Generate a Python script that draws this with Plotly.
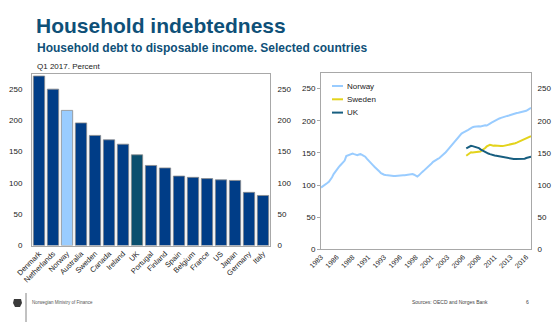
import pandas as pd
import plotly.graph_objects as go

W, H = 560, 331


def fx(x):
    return x / W


def fy(y):
    return 1 - y / H


# ---- left panel: household debt, Q1 2017 ----
countries = ["Denmark", "Netherlands", "Norway", "Australia", "Sweden", "Canada",
             "Ireland", "UK", "Portugal", "Finland", "Spain", "Belgium", "France",
             "US", "Japan", "Germany", "Italy"]
debt_ratio = [271, 250, 216, 196, 176, 169, 162, 145, 128, 124, 111, 109, 107,
              105, 104, 85, 80]

# ---- right panel: quarterly series ----
quarters = list(pd.period_range("1983Q4", "2017Q1", freq="Q").astype(str))

norway = [
    96, 97.5, 99, 101.5, 103, 105, 108, 112, 117, 121,
    124, 127, 130, 133, 135, 138, 145, 146, 146.5, 147,
    149, 148, 147, 146.5, 147.5, 148, 147, 145.5, 144, 141,
    138, 135.5, 133, 130.5, 128, 126, 123.5, 121, 118.5, 117,
    116, 115.5, 115, 114.5, 114, 114, 114, 114, 114, 114.2,
    114.5, 114.8, 115, 115.2, 115.5, 116, 116.5, 117, 117, 116,
    114.5, 113, 115, 118, 120, 122, 124, 126, 128.5, 131,
    133.5, 136, 138, 139.5, 140.5, 142, 144, 146, 148.5, 151,
    154, 157, 160, 163, 166, 169, 172, 175, 177.5, 180,
    181.5, 182.5, 184, 185.5, 187, 189, 190, 190.5, 191, 191,
    191.5, 191, 192, 193, 193, 192.5, 193.5, 195.5, 197, 198.5,
    200, 201, 202, 203.5, 204.5, 205.5, 206.5, 207, 207.5, 208,
    209, 209.5, 210, 211, 212, 212.5, 213, 214, 214.5, 215,
    215.5, 217, 219, 220,
]

sweden_start = "2006Q4"
sweden = [
    145.5, 147, 149, 151, 150.5, 151, 150.5, 151, 151.5, 152,
    154, 155.5, 157.5, 160, 161, 162.5, 162, 161, 161.5, 161,
    160.5, 160.5, 160.5, 160.5, 161, 161, 161.5, 162, 163, 163.5,
    164, 165, 166, 167, 168.5, 170, 171, 172, 173, 174,
    175, 176,
]
uk = [
    157, 158, 160, 161, 160.5, 160, 159.5, 158.5, 157.5, 155.5,
    154, 153, 151.5, 150, 149, 148, 147, 147, 146, 145.5,
    145, 144.5, 144, 143, 142.5, 142, 141.5, 141, 140.5, 140.5,
    140.5, 140.5, 140.5, 140.5, 140, 140, 140.5, 141, 142, 143,
    143.5, 144,
]

year_ticks = ["1983Q4", "1986Q2", "1988Q4", "1991Q2", "1993Q4", "1996Q2", "1998Q4",
              "2001Q2", "2003Q4", "2006Q2", "2008Q4", "2011Q2", "2013Q4", "2016Q2"]
year_labels = [q[:4] for q in year_ticks]
y_ticks = [0, 50, 100, 150, 200, 250]

series_names = ["Norway", "Sweden", "UK"]
series_colors = ["#99CCFF", "#E3D31C", "#175E80"]

BAR_DARK = "#003D87"
highlight = {"Norway": "#99CCFF", "UK": "#0A4F6E"}
bar_colors = [highlight.get(c, BAR_DARK) for c in countries]

FONT = "Liberation Sans, Arial, sans-serif"
TITLE_COL = "#0E5078"
FRAME = "#A8A8A8"
TXT = "#222222"

fig = go.Figure()

fig.add_trace(go.Bar(
    x=countries, y=debt_ratio, marker=dict(color=bar_colors, line=dict(color="#8C8C8C", width=0.8)),
    xaxis="x", yaxis="y", showlegend=False, hoverinfo="x+y",
))
# invisible copy to carry the right-hand tick labels of the left panel
fig.add_trace(go.Scatter(x=countries, y=debt_ratio, mode="none", xaxis="x", yaxis="y2",
                         showlegend=False, hoverinfo="skip"))

i0 = quarters.index(sweden_start)
sub_q = quarters[i0:i0 + len(sweden)]
for name, col, xs, ys in [("Norway", series_colors[0], quarters, norway),
                          ("Sweden", series_colors[1], sub_q, sweden),
                          ("UK", series_colors[2], sub_q, uk)]:
    fig.add_trace(go.Scatter(x=xs, y=ys, mode="lines", name=name,
                             line=dict(color=col, width=2), xaxis="x2", yaxis="y3",
                             showlegend=False))
fig.add_trace(go.Scatter(x=quarters, y=norway, mode="none", xaxis="x2", yaxis="y4",
                         showlegend=False, hoverinfo="skip"))

L_DOM_X = [fx(32), fx(270)]
L_DOM_Y = [fy(245.5), fy(73.5)]
R_DOM_X = [fx(321), fx(531)]
R_DOM_Y = [fy(249.3), fy(72.5)]

tick_font = dict(family=FONT, size=8, color=TXT)
yrange = [0, 275]

fig.update_layout(
    width=W, height=H, margin=dict(l=0, r=0, t=0, b=0),
    paper_bgcolor="white", plot_bgcolor="white",
    font=dict(family=FONT, color=TXT),
    bargap=0.19,
    xaxis=dict(domain=L_DOM_X, anchor="y", type="category", tickangle=-45,
               tickfont=dict(family=FONT, size=7.5, color=TXT), showline=True,
               mirror=True, linecolor=FRAME, linewidth=1, ticks="", showgrid=False,
               range=[-0.5, len(countries) - 0.5], automargin=False),
    yaxis=dict(domain=L_DOM_Y, anchor="x", range=yrange, tickvals=y_ticks,
               tickfont=tick_font, showline=True, mirror=True, linecolor=FRAME,
               linewidth=1, showgrid=False, zeroline=False, ticks="outside",
               ticklen=7, tickcolor="rgba(0,0,0,0)", automargin=False),
    yaxis2=dict(domain=L_DOM_Y, anchor="x", overlaying="y", side="right",
                range=yrange, tickvals=y_ticks, tickfont=tick_font, showgrid=False,
                zeroline=False, showline=False, ticks="outside", ticklen=5,
                tickcolor="rgba(0,0,0,0)", automargin=False),
    xaxis2=dict(domain=R_DOM_X, anchor="y3", type="category",
                categoryorder="array", categoryarray=quarters,
                range=[0, len(quarters) - 1], tickvals=year_ticks, ticktext=year_labels,
                tickangle=-45, tickfont=dict(family=FONT, size=7, color=TXT),
                showline=True, mirror=True, linecolor=FRAME, linewidth=1,
                showgrid=False, ticks="", automargin=False),
    yaxis3=dict(domain=R_DOM_Y, anchor="x2", range=yrange, tickvals=y_ticks,
                tickfont=tick_font, showline=True, mirror=True, linecolor=FRAME,
                linewidth=1, showgrid=False, zeroline=False, ticks="outside",
                ticklen=3, tickcolor=FRAME, automargin=False),
    yaxis4=dict(domain=R_DOM_Y, anchor="x2", overlaying="y3", side="right",
                range=yrange, tickvals=y_ticks, tickfont=tick_font, showgrid=False,
                zeroline=False, showline=False, ticks="outside", ticklen=4,
                tickcolor="rgba(0,0,0,0)", automargin=False),
)

annotations = [
    dict(text="<b>Household indebtedness</b>", x=fx(34), y=fy(39), xanchor="left",
         yanchor="bottom", font=dict(family=FONT, size=21, color=TITLE_COL)),
    dict(text="<b>Household debt to disposable income. Selected countries</b>",
         x=fx(34.5), y=fy(57), xanchor="left", yanchor="bottom",
         font=dict(family=FONT, size=12, color=TITLE_COL)),
    dict(text="Q1 2017. Percent", x=fx(35), y=fy(66), xanchor="left", yanchor="middle",
         font=dict(family=FONT, size=8, color=TXT)),
    dict(text="Norwegian Ministry of Finance", x=fx(30), y=fy(302), xanchor="left",
         yanchor="middle", font=dict(family=FONT, size=4.5, color="#555555")),
    dict(text="Sources: OECD and Norges Bank", x=fx(410), y=fy(302), xanchor="left",
         yanchor="middle", font=dict(family=FONT, size=5, color="#444444")),
    dict(text="6", x=fx(527), y=fy(302), xanchor="center", yanchor="middle",
         font=dict(family=FONT, size=5, color="#444444")),
]

shapes = [
    # footer divider next to the ministry crest
    dict(type="line", xref="paper", yref="paper", x0=fx(26), x1=fx(26),
         y0=fy(293), y1=fy(322), line=dict(color="#666666", width=0.8)),
    # simplified crest
    dict(type="path", xref="paper", yref="paper",
         path=(f"M {fx(14)},{fy(299)} L {fx(21)},{fy(299)} L {fx(22)},{fy(303)} "
               f"L {fx(20)},{fy(307)} L {fx(15)},{fy(307)} L {fx(13)},{fy(303)} Z"),
         fillcolor="#3A3A3A", line=dict(width=0)),
]

# legend inside the right panel
for k, (name, col) in enumerate(zip(series_names, series_colors)):
    yy = 86 + 13.3 * k
    shapes.append(dict(type="line", xref="paper", yref="paper", x0=fx(332), x1=fx(343),
                       y0=fy(yy), y1=fy(yy), line=dict(color=col, width=2)))
    annotations.append(dict(text=name, x=fx(344.5), y=fy(yy), xanchor="left",
                            yanchor="middle", font=dict(family=FONT, size=8, color=TXT)))

for a in annotations:
    a.update(xref="paper", yref="paper", showarrow=False)
fig.update_layout(annotations=annotations, shapes=shapes)

fig.write_html("out.html")
